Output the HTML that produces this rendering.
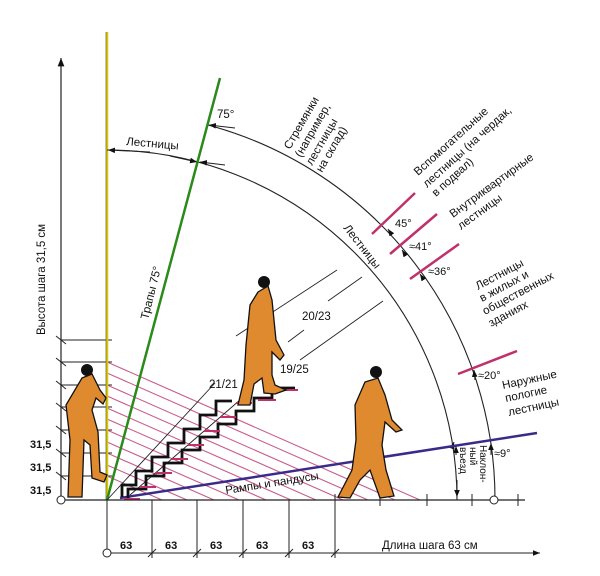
<!DOCTYPE html>
<html><head><meta charset="utf-8"><style>
html,body{margin:0;padding:0;background:#fff;}
svg{display:block;font-family:"Liberation Sans","DejaVu Sans",sans-serif;}
</style></head><body>
<svg width="600" height="576" viewBox="0 0 600 576" xmlns="http://www.w3.org/2000/svg">
<defs>
<marker id="ar" viewBox="0 0 10 10" refX="10" refY="5" markerWidth="7" markerHeight="7" orient="auto-start-reverse"><path d="M0,1 L10,5 L0,9 z" fill="#111"/></marker>
</defs>
<rect width="600" height="576" fill="#fff"/>
<line x1="61" y1="500" x2="61" y2="58" stroke="#222" stroke-width="1.2" marker-end="url(#ar)"/>
<g stroke="#222" stroke-width="1">
<line x1="61" y1="340" x2="112" y2="340"/><line x1="61" y1="362" x2="112" y2="362"/><line x1="61" y1="385" x2="112" y2="385"/><line x1="61" y1="407" x2="112" y2="407"/><line x1="61" y1="430" x2="112" y2="430"/><line x1="61" y1="453" x2="112" y2="453"/><line x1="61" y1="476" x2="112" y2="476"/>
<line x1="56" y1="336" x2="66" y2="344"/><line x1="56" y1="358" x2="66" y2="366"/><line x1="56" y1="381" x2="66" y2="389"/><line x1="56" y1="403" x2="66" y2="411"/><line x1="56" y1="426" x2="66" y2="434"/><line x1="56" y1="449" x2="66" y2="457"/><line x1="56" y1="472" x2="66" y2="480"/>
</g>
<g stroke="#c0407a" stroke-width="1.1" opacity="0.85">
<line x1="107" y1="362" x2="420" y2="500"/><line x1="107" y1="373" x2="395" y2="500"/><line x1="107" y1="385" x2="368" y2="500"/><line x1="107" y1="396" x2="343" y2="500"/><line x1="107" y1="408" x2="316" y2="500"/><line x1="107" y1="419" x2="291" y2="500"/><line x1="107" y1="430" x2="266" y2="500"/><line x1="107" y1="442" x2="239" y2="500"/><line x1="107" y1="453" x2="214" y2="500"/><line x1="107" y1="465" x2="187" y2="500"/><line x1="107" y1="476" x2="162" y2="500"/>
</g>
<line x1="107" y1="32" x2="107" y2="500" stroke="#d8c800" stroke-width="2.5"/>
<line x1="106" y1="32" x2="106" y2="500" stroke="#555" stroke-width="0.6"/>
<path d="M107,150 A350,350 0 0 1 457,500" fill="none" stroke="#222" stroke-width="1.1"/>
<path d="M208,125 A388,388 0 0 1 495,500" fill="none" stroke="#222" stroke-width="1.1"/>
<line x1="150" y1="152" x2="108" y2="150" stroke="#222" marker-end="url(#ar)"/>
<line x1="170" y1="156" x2="197" y2="162" stroke="#222" marker-end="url(#ar)"/>
<line x1="225" y1="165" x2="200" y2="162" stroke="#222" marker-end="url(#ar)"/>
<line x1="235" y1="128" x2="209" y2="125" stroke="#222" marker-end="url(#ar)"/>
<line x1="107" y1="500" x2="220" y2="78" stroke="#2a8a1a" stroke-width="2.5"/>
<g stroke="#c0306a" stroke-width="2.5">
<line x1="372" y1="234" x2="415" y2="193"/><line x1="390" y1="254" x2="437" y2="214"/><line x1="410" y1="279" x2="459" y2="244"/><line x1="458" y1="374" x2="517" y2="351"/>
</g>
<g stroke="#222" stroke-width="1">
<line x1="392" y1="235" x2="388" y2="229" marker-end="url(#ar)"/>
<line x1="406" y1="256" x2="402" y2="250" marker-end="url(#ar)"/>
<line x1="424" y1="280" x2="420" y2="274" marker-end="url(#ar)"/>
<line x1="475" y1="380" x2="474" y2="370" marker-end="url(#ar)"/>
<line x1="491" y1="455" x2="491" y2="443" marker-end="url(#ar)"/>
<line x1="453" y1="445" x2="454" y2="442" marker-end="url(#ar)"/>
<line x1="456" y1="455" x2="456" y2="446" marker-end="url(#ar)"/>
<line x1="457" y1="480" x2="457" y2="497" marker-end="url(#ar)"/>
</g>
<line x1="120" y1="498" x2="537" y2="433" stroke="#3a2a8a" stroke-width="2.5"/>
<g stroke="#222" stroke-width="0.9">
<line x1="107" y1="500" x2="215" y2="383"/><line x1="130" y1="495" x2="240" y2="400"/>
<line x1="236" y1="336" x2="337" y2="270"/><line x1="288" y1="342" x2="304" y2="330"/><line x1="328" y1="301" x2="362" y2="277"/><line x1="300" y1="360" x2="383" y2="301"/>
</g>
<path d="M122,497 V485 H136 V471 H152 V457 H168 V443 H184 V429 H200 V415 H216 V401 H232" fill="none" stroke="#111" stroke-width="2.8"/>
<path d="M128,500 V489 H146 V476 H164 V463 H182 V450 H200 V437 H218 V424 H236 V411 H254 V398 H272 V388 H295" fill="none" stroke="#111" stroke-width="2.8"/>
<path d="M124,499 H140 M140,487 H156 M156,473 H172 M172,459 H188 M188,445 H204 M204,431 H220 M220,417 H236 M236,403 H252 M258,400 H276 M276,390 H298" stroke="#c0306a" stroke-width="2" fill="none"/>
<line x1="61" y1="500" x2="525" y2="500" stroke="#222" stroke-width="1.2"/>
<g stroke="#222"><line x1="335" y1="494" x2="335" y2="506"/><line x1="380" y1="494" x2="380" y2="506"/><line x1="427" y1="494" x2="427" y2="506"/><line x1="472" y1="494" x2="472" y2="506"/><line x1="518" y1="494" x2="518" y2="506"/></g>
<circle cx="61" cy="500" r="4" fill="#fff" stroke="#222"/>
<circle cx="494" cy="500" r="4" fill="#fff" stroke="#222"/>
<g stroke="#222" stroke-width="1">
<line x1="107" y1="500" x2="107" y2="556"/><line x1="152" y1="500" x2="152" y2="558"/><line x1="197" y1="500" x2="197" y2="558"/><line x1="243" y1="500" x2="243" y2="558"/><line x1="289" y1="500" x2="289" y2="558"/><line x1="335" y1="500" x2="335" y2="558"/>
<line x1="104" y1="553" x2="540" y2="553" marker-end="url(#ar)"/>
<line x1="148" y1="557" x2="156" y2="549"/><line x1="193" y1="557" x2="201" y2="549"/><line x1="239" y1="557" x2="247" y2="549"/><line x1="285" y1="557" x2="293" y2="549"/><line x1="331" y1="557" x2="339" y2="549"/>
</g>
<circle cx="107" cy="553" r="4" fill="#fff" stroke="#222"/>
<g font-size="11" font-weight="bold" fill="#111">
<text x="120" y="549">63</text><text x="165" y="549">63</text><text x="210" y="549">63</text><text x="256" y="549">63</text><text x="302" y="549">63</text>
<text x="30" y="494">31,5</text><text x="30" y="471">31,5</text><text x="30" y="448">31,5</text>
</g>
<g fill="#e08a30" stroke="#111" stroke-width="1.3">
<path d="M82,378 L92,374 L100,390 L106,398 L103,404 L96,398 L92,410 L98,432 L100,472 L107,475 L104,482 L92,478 L90,445 L84,440 L82,497 L68,497 L70,440 L66,405 Z"/>
<path d="M258,292 L268,286 L272,300 L276,340 L284,355 L280,360 L272,352 L272,375 L275,385 L286,390 L275,394 L264,393 L262,378 L254,384 L250,405 L238,405 L244,380 L246,345 L250,305 Z"/>
<path d="M365,382 L378,378 L385,395 L392,420 L402,430 L396,432 L385,422 L382,445 L386,470 L394,496 L380,498 L370,470 L360,480 L350,498 L338,497 L352,470 L356,440 L355,405 Z"/>
</g>
<g fill="#111"><circle cx="87" cy="370" r="6"/><circle cx="264" cy="282" r="6"/><circle cx="376" cy="372" r="6"/></g>
<g font-size="11.5" fill="#111">
<text transform="translate(45,335) rotate(-90)">Высота шага 31,5 см</text>
<text x="382" y="549" font-size="11.5">Длина шага 63 см</text>
<text x="126" y="145" transform="rotate(5 126 145)">Лестницы</text>
<text x="217" y="118" font-size="11.5">75°</text>
<text transform="translate(148,320) rotate(-76)">Трапы 75°</text>
<text transform="translate(290,150) rotate(-60)">Стремянки</text>
<text transform="translate(301,158) rotate(-60)">(например,</text>
<text transform="translate(312,166) rotate(-60)">лестницы</text>
<text transform="translate(322,173) rotate(-60)">на склад)</text>
<text transform="translate(343,228) rotate(52)">Лестницы</text>
<text transform="translate(418,176) rotate(-42)">Вспомогательные</text>
<text transform="translate(427,188) rotate(-42)">лестницы (на чердак,</text>
<text transform="translate(436,197) rotate(-42)">в подвал)</text>
<text transform="translate(453,218) rotate(-36)">Внутриквартирные</text>
<text transform="translate(461,230) rotate(-36)">лестницы</text>
<text transform="translate(478,290) rotate(-28)">Лестницы</text>
<text transform="translate(482,302) rotate(-28)">в  жилых  и</text>
<text transform="translate(485,315) rotate(-28)">общественных</text>
<text transform="translate(491,327) rotate(-28)">зданиях</text>
<text x="395" y="227" font-size="11">45°</text>
<text x="409" y="250" font-size="11">≈41°</text>
<text x="428" y="275" font-size="11">≈36°</text>
<text x="478" y="379" font-size="11">≈20°</text>
<text x="494" y="457" font-size="11">≈9°</text>
<text transform="translate(503,389) rotate(-12)">Наружные</text>
<text transform="translate(506,402) rotate(-12)">пологие</text>
<text transform="translate(509,416) rotate(-12)">лестницы</text>
<text transform="translate(480,445) rotate(90)" font-size="10">Наклон-</text>
<text transform="translate(470,447) rotate(90)" font-size="10">ный</text>
<text transform="translate(460,447) rotate(90)" font-size="10">въезд</text>
<text x="209" y="388" font-size="11.5">21/21</text>
<text x="280" y="373" font-size="11.5">19/25</text>
<text x="302" y="320" font-size="11.5">20/23</text>
<text transform="translate(226,494) rotate(-9)">Рампы и  пандусы</text>
</g>
</svg>
</body></html>
